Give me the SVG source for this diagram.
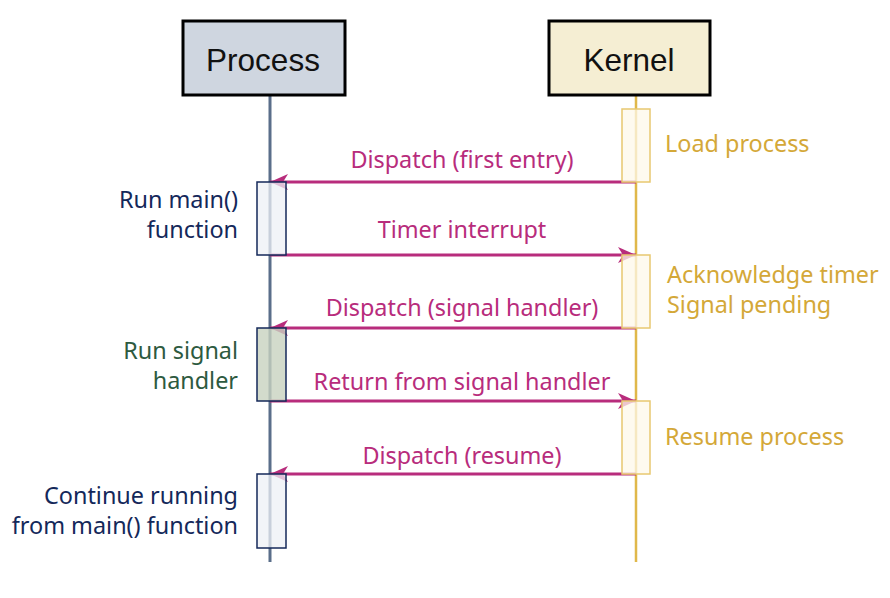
<svg xmlns="http://www.w3.org/2000/svg" width="890" height="598" viewBox="0 0 890 598">
<defs>
<style>
.hdr{font-family:"Liberation Sans",Arial,sans-serif;font-size:31.5px;fill:#111;text-anchor:middle}
.lbl{font-family:"Noto Sans","Open Sans",sans-serif;font-size:23.4px;fill:#b82c7c;text-anchor:middle}
.kn{font-family:"Noto Sans","Open Sans",sans-serif;font-size:23.4px;fill:#d4a838}
.pn{font-family:"Noto Sans","Open Sans",sans-serif;font-size:23.4px;fill:#14285a;text-anchor:end}
.pg{font-family:"Noto Sans","Open Sans",sans-serif;font-size:23.4px;fill:#2d5a40;text-anchor:end}
.msg{stroke:#b82c7c;stroke-width:3;fill:none;marker-end:url(#ah)}
.kact{fill:#fdf8ea;fill-opacity:0.75;stroke:#e8c870;stroke-width:1.5}
.pact{fill:#eef0f5;fill-opacity:0.75;stroke:#14285a;stroke-width:1.5}
.gact{fill:#c8d2bf;fill-opacity:0.8;stroke:#14285a;stroke-width:1.5}
</style>
<marker id="ah" markerWidth="20" markerHeight="16" refX="18" refY="8" orient="auto" markerUnits="userSpaceOnUse">
<path d="M0,0 L18,8 L0,16 L5,8 Z" fill="#b82c7c"/>
</marker>
</defs>
<g id="lifelines">
<line x1="270" y1="95" x2="270" y2="562" stroke="#5a6e8a" stroke-width="3"/>
<line x1="636" y1="95" x2="636" y2="562" stroke="#e0b84a" stroke-width="2.5"/>
</g>
<g id="Process">
<rect x="183" y="21" width="162" height="74" fill="#cfd6e0" stroke="#000" stroke-width="3"/>
<text class="hdr" x="263" y="71">Process</text>
</g>
<g id="Kernel">
<rect x="549" y="21" width="161" height="74" fill="#f5eed3" stroke="#000" stroke-width="3"/>
<text class="hdr" x="629" y="71">Kernel</text>
</g>
<g id="connectors">
<line class="msg" x1="636" y1="182" x2="270" y2="182"/>
<line class="msg" x1="270" y1="255" x2="636" y2="255"/>
<line class="msg" x1="636" y1="328" x2="270" y2="328"/>
<line class="msg" x1="270" y1="401" x2="636" y2="401"/>
<line class="msg" x1="636" y1="474" x2="270" y2="474"/>
<text class="lbl" x="462" y="168">Dispatch (first entry)</text>
<text class="lbl" x="462" y="238">Timer interrupt</text>
<text class="lbl" x="462" y="316">Dispatch (signal handler)</text>
<text class="lbl" x="462" y="390">Return from signal handler</text>
<text class="lbl" x="462" y="464">Dispatch (resume)</text>
</g>
<g id="kernel-activations">
<rect class="kact" x="622" y="109" width="28" height="73"/>
<rect class="kact" x="622" y="255" width="28" height="73"/>
<rect class="kact" x="622" y="401" width="28" height="73"/>
</g>
<g id="process-activations">
<rect class="pact" x="257" y="182" width="29" height="73"/>
<rect class="gact" x="257" y="328" width="29" height="73"/>
<rect class="pact" x="257" y="474" width="29" height="74"/>
</g>
<g id="kernel-notes">
<text class="kn" x="665" y="152">Load process</text>
<text class="kn" x="667" y="283">Acknowledge timer</text>
<text class="kn" x="667" y="313">Signal pending</text>
<text class="kn" x="665" y="445">Resume process</text>
</g>
<g id="process-notes">
<text class="pn" x="238" y="208">Run main()</text>
<text class="pn" x="238" y="238">function</text>
<text class="pg" x="238" y="359">Run signal</text>
<text class="pg" x="238" y="389">handler</text>
<text class="pn" x="238" y="504">Continue running</text>
<text class="pn" x="238" y="534">from main() function</text>
</g>
</svg>
